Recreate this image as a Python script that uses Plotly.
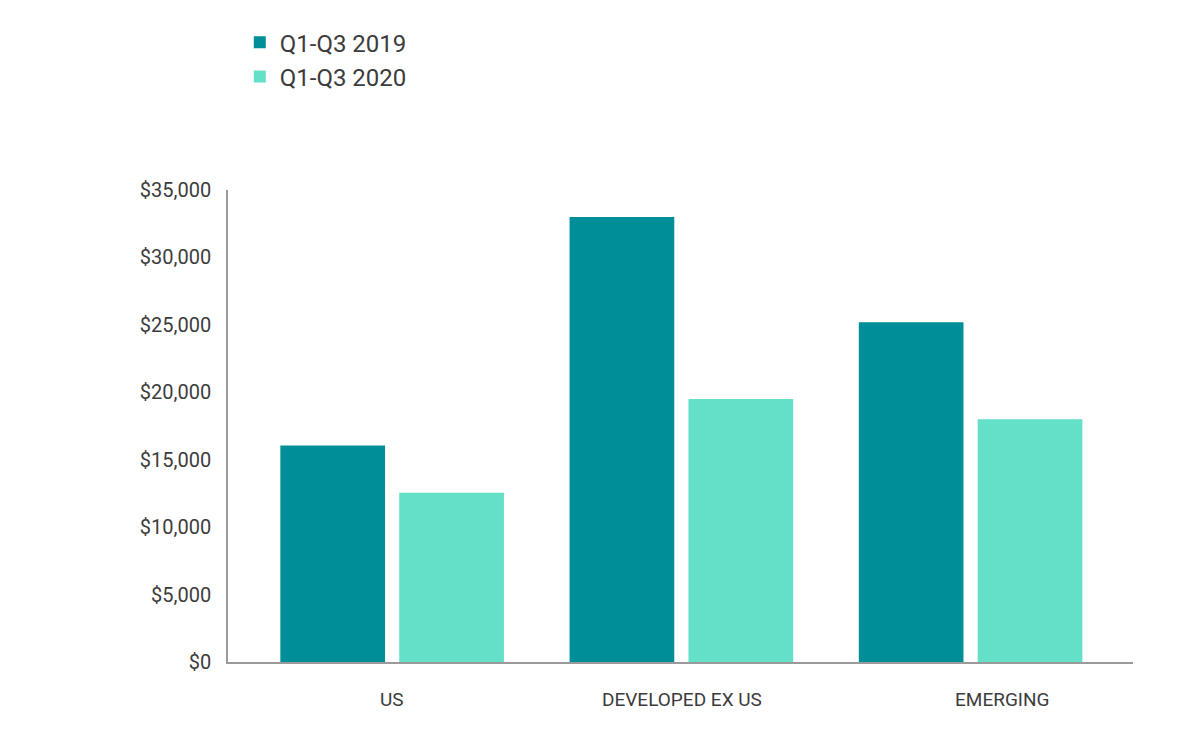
import plotly.graph_objects as go

categories = ["US", "DEVELOPED EX US", "EMERGING"]
series_names = ["Q1-Q3 2019", "Q1-Q3 2020"]
values_2019 = [16050, 33000, 25200]
values_2020 = [12550, 19500, 18000]
y_tick_vals = [0, 5000, 10000, 15000, 20000, 25000, 30000, 35000]
y_tick_text = ["$0", "$5,000", "$10,000", "$15,000", "$20,000", "$25,000", "$30,000", "$35,000"]

colors = ["#008E98", "#64DFC8"]
FONT = "Roboto, sans-serif"
TXT = "#3c3c3c"

fig = go.Figure()
fig.add_trace(go.Bar(x=categories, y=values_2019, name=series_names[0],
                     marker=dict(color=colors[0], line=dict(width=0)),
                     width=0.362, offset=-0.387))
fig.add_trace(go.Bar(x=categories, y=values_2020, name=series_names[1],
                     marker=dict(color=colors[1], line=dict(width=0)),
                     width=0.362, offset=0.024))

# category labels as annotations (EMERGING label sits right of its group)
label_shift = [0, 0, 32]
for c, s in zip(categories, label_shift):
    fig.add_annotation(x=c, y=0, xref="x", yref="y", text=c, showarrow=False,
                       yshift=-37, xshift=s, font=dict(family=FONT, size=19, color=TXT))

fig.update_layout(
    width=1200, height=735,
    margin=dict(l=228, r=67, t=190, b=73),
    paper_bgcolor="white", plot_bgcolor="white",
    barmode="overlay",
    font=dict(family=FONT, color=TXT),
    showlegend=True,
    legend=dict(x=0.013, y=1.36, xanchor="left", yanchor="top",
                font=dict(family=FONT, size=24, color=TXT),
                itemsizing="constant", tracegroupgap=0, bgcolor="rgba(0,0,0,0)"),
    xaxis=dict(type="category", range=[-0.568, 2.561], showticklabels=False,
               showline=True, linecolor="#9a9a9a", linewidth=1.5, ticks="",
               showgrid=False, zeroline=False),
    yaxis=dict(range=[0, 35000], tickvals=y_tick_vals, ticktext=y_tick_text,
               showline=True, linecolor="#9a9a9a", linewidth=1.5, ticks="",
               showgrid=False, zeroline=False, ticklabelstandoff=11,
               tickfont=dict(family=FONT, size=20, color=TXT)),
)

fig.write_html("out.html")
